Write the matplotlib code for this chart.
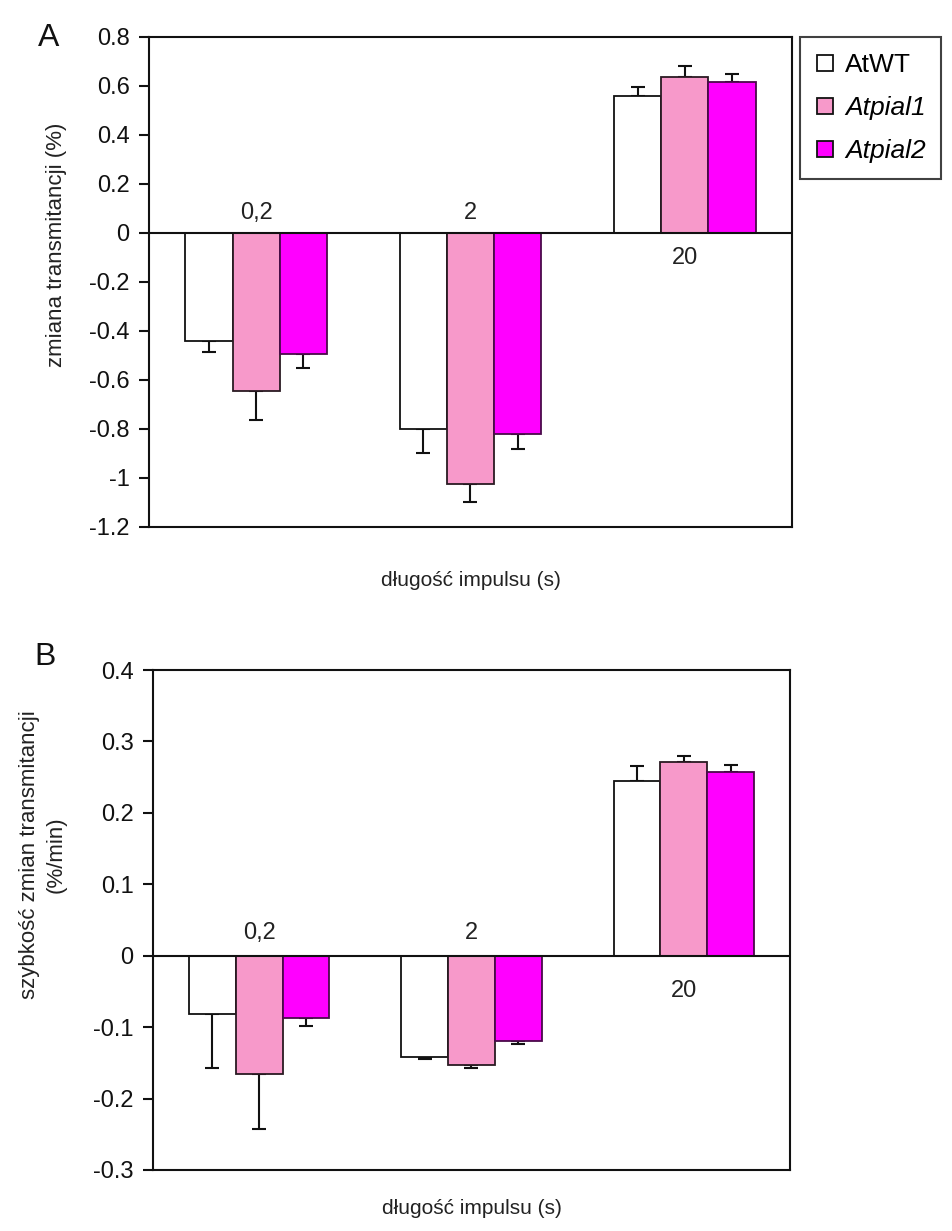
import numpy as np
import matplotlib.pyplot as plt
from matplotlib.lines import Line2D

plt.rcParams['font.family'] = ['Liberation Sans', 'DejaVu Sans']

groups = ['0,2', '2', '20']
lines = ['AtWT', 'Atpial1', 'Atpial2']
colors = ['#FFFFFF', '#F799CA', '#FF00FF']
edges = ['#111111', '#2a1a22', '#4a0a4a']

# A: change in transmittance (%)
a_ticks = [-1.2, -1.0, -0.8, -0.6, -0.4, -0.2, 0, 0.2, 0.4, 0.6, 0.8]
a_ticklabels = ['-1.2', '-1', '-0.8', '-0.6', '-0.4', '-0.2', '0', '0.2', '0.4', '0.6', '0.8']
a_vals = [[-0.44, -0.80, 0.56],
          [-0.645, -1.025, 0.635],
          [-0.495, -0.82, 0.615]]
a_err = [[0.045, 0.10, 0.035],
         [0.118, 0.075, 0.048],
         [0.055, 0.063, 0.033]]

# B: rate of transmittance change (%/min)
b_ticks = [-0.3, -0.2, -0.1, 0, 0.1, 0.2, 0.3, 0.4]
b_ticklabels = ['-0.3', '-0.2', '-0.1', '0', '0.1', '0.2', '0.3', '0.4']
b_vals = [[-0.082, -0.142, 0.245],
          [-0.165, -0.153, 0.271],
          [-0.087, -0.120, 0.257]]
b_err = [[0.075, 0.003, 0.021],
         [0.078, 0.004, 0.008],
         [0.011, 0.003, 0.010]]

fig = plt.figure(figsize=(9.52, 12.31), dpi=100)
axA = fig.add_axes([0.1565, 0.5719, 0.6754, 0.3981])
axB = fig.add_axes([0.1607, 0.0496, 0.6691, 0.4061])

x = np.arange(len(groups))
w = 0.22


def draw_panel(ax, vals, errs, ticks, ticklabels, up_off, down_off, xpad):
    for k in range(3):
        v = np.array(vals[k])
        e = np.array(errs[k])
        pos = x + (k - 1) * w
        ax.bar(pos, v, w, color=colors[k], edgecolor=edges[k], linewidth=1.3, zorder=2)
        lower = np.where(v < 0, e, 0)
        upper = np.where(v > 0, e, 0)
        ax.errorbar(pos, v, yerr=[lower, upper], fmt='none', ecolor='#111111',
                    elinewidth=1.5, capsize=5, capthick=1.5, zorder=1)
    ax.axhline(0, color='#111111', lw=1.5, zorder=3)
    ax.set_xlim(-0.5, 2.5)
    ax.set_ylim(ticks[0], ticks[-1])
    ax.set_yticks(ticks)
    ax.set_yticklabels(ticklabels)
    ax.set_xticks([])
    ax.tick_params(axis='y', direction='out', length=7, width=1.5, labelsize=17,
                   pad=7, colors='#111111')
    for s in ax.spines.values():
        s.set_linewidth(1.5)
        s.set_color('#111111')
    # category labels sit on the side of the zero line away from the bars
    for i, g in enumerate(groups):
        neg = np.mean([vals[k][i] for k in range(3)]) < 0
        off = up_off if neg else -down_off
        ax.annotate(g, (x[i], 0), xytext=(0, off), textcoords='offset pixels',
                    ha='center', va='center', fontsize=17, color='#222222')
    ax.set_xlabel('długość impulsu (s)', fontsize=15, color='#222222', labelpad=xpad)


draw_panel(axA, a_vals, a_err, a_ticks, a_ticklabels, 20, 25, 32)
draw_panel(axB, b_vals, b_err, b_ticks, b_ticklabels, 23, 35, 21)

axA.set_ylabel('zmiana transmitancji (%)', fontsize=16, color='#222222')
axA.yaxis.set_label_coords(-0.127, 0.576)
axB.set_ylabel('szybkość zmian transmitancji\n(%/min)', fontsize=16, color='#222222',
               linespacing=1.4)
axB.yaxis.set_label_coords(-0.135, 0.63)

fig.text(49 / 952, 1 - 38 / 1231, 'A', fontsize=23, ha='center', va='center', color='#111111')
fig.text(45 / 952, 1 - 657 / 1231, 'B', fontsize=23, ha='center', va='center', color='#111111')

handles = [Line2D([], [], ls='none', marker='s', markersize=11, markerfacecolor=c,
                  markeredgecolor='#111111', markeredgewidth=1.3) for c in colors]
leg = axA.legend(handles, lines, loc='upper left', bbox_to_anchor=(800 / 952, 1 - 37 / 1231),
                 bbox_transform=fig.transFigure, borderaxespad=0, fontsize=19,
                 frameon=True, fancybox=False, handlelength=0.7, handletextpad=0.4,
                 labelspacing=0.72, borderpad=0.6)
leg.get_frame().set_edgecolor('#111111')
leg.get_frame().set_linewidth(1.5)
for t in leg.get_texts()[1:]:
    t.set_fontstyle('italic')

fig.savefig('out.png', dpi=100)
